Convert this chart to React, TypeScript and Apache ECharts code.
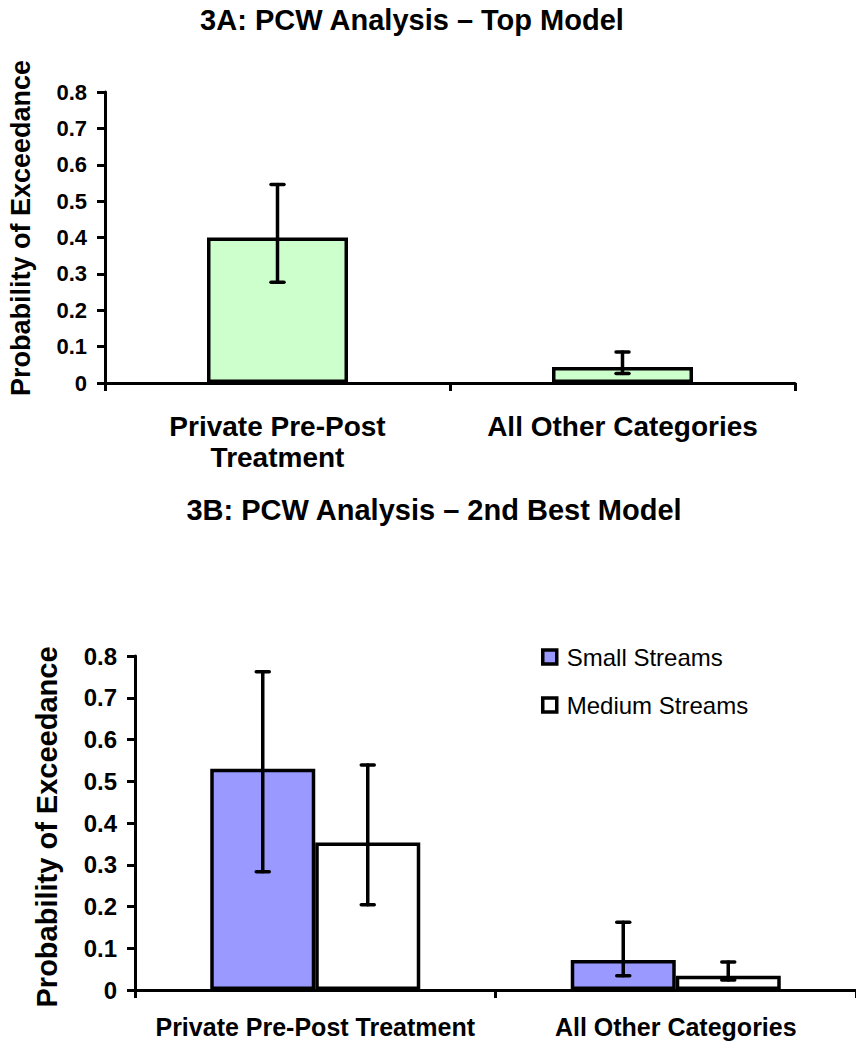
import React, { useEffect, useRef } from "react";
import * as echarts from "echarts";

const categoriesA = ["Private Pre-Post\nTreatment", "All Other Categories"];
const topValues = [0.4, 0.044];
const topLow = [0.277, 0.026];
const topHigh = [0.546, 0.085];

const categoriesB = ["Private Pre-Post Treatment", "All Other Categories"];
const smallValues = [0.53, 0.072];
const smallLow = [0.283, 0.034];
const smallHigh = [0.762, 0.162];
const mediumValues = [0.353, 0.034];
const mediumLow = [0.204, 0.024];
const mediumHigh = [0.539, 0.067];

const yTicks = [0, 0.1, 0.2, 0.3, 0.4, 0.5, 0.6, 0.7, 0.8];

const FONT = '"Liberation Sans", Arial, Helvetica, sans-serif';

function errData(lo: number[], hi: number[]) {
  return lo.map((l, i) => [i, l, hi[i]]);
}

function errSeries(
  lo: number[],
  hi: number[],
  xAxisIndex: number,
  yAxisIndex: number,
  offset: number
) {
  return {
    type: "custom",
    xAxisIndex,
    yAxisIndex,
    z: 10,
    silent: true,
    data: errData(lo, hi),
    encode: { x: 0, y: [1, 2] },
    renderItem: (params: any, api: any) => {
      const idx = api.value(0);
      const pHi = api.coord([idx, api.value(2)]);
      const pLo = api.coord([idx, api.value(1)]);
      const cx = pHi[0] + offset;
      const style = { stroke: "#000", lineWidth: 3.5, lineCap: "round" };
      return {
        type: "group",
        children: [
          { type: "line", shape: { x1: cx, y1: pHi[1], x2: cx, y2: pLo[1] }, style },
          { type: "line", shape: { x1: cx - 6.5, y1: pHi[1], x2: cx + 6.5, y2: pHi[1] }, style },
          { type: "line", shape: { x1: cx - 6.5, y1: pLo[1], x2: cx + 6.5, y2: pLo[1] }, style },
        ],
      };
    },
  };
}

function yAxisCfg(gridIndex: number, fontSize: number) {
  return {
    type: "value",
    gridIndex,
    min: 0,
    max: yTicks[yTicks.length - 1],
    interval: 0.1,
    axisLine: { show: true, lineStyle: { color: "#000", width: 3 } },
    axisTick: { show: true, length: 8, lineStyle: { color: "#000", width: 3 } },
    splitLine: { show: false },
    axisLabel: {
      margin: 18,
      fontFamily: FONT,
      fontWeight: "bold",
      fontSize,
      color: "#000",
      formatter: (v: number) => String(Math.round(v * 10) / 10),
    },
  };
}

function textEl(text: string, x: number, y: number, size: number, rotation = 0) {
  return {
    type: "text",
    x,
    y,
    rotation,
    style: {
      text,
      font: `bold ${size}px ${FONT}`,
      fill: "#000",
      textAlign: "center",
      textVerticalAlign: "middle",
    },
  };
}

export default function App() {
  const ref = useRef<HTMLDivElement>(null);
  useEffect(() => {
    if (!ref.current) return;
    const chart = echarts.init(ref.current, null, { renderer: "svg" });
    chart.setOption({
      animation: false,
      backgroundColor: "#fff",
      graphic: [
        textEl("3A: PCW Analysis \u2013 Top Model", 412, 20, 29),
        textEl("3B: PCW Analysis \u2013 2nd Best Model", 434, 510, 29),
        textEl("Probability of Exceedance", 21, 228, 27, Math.PI / 2),
        textEl("Probability of Exceedance", 47, 827, 29, Math.PI / 2),
      ],
      legend: {
        data: [
          { name: "Small Streams", itemStyle: { borderColor: "#000", borderWidth: 3.5 } },
          { name: "Medium Streams", itemStyle: { borderColor: "#000", borderWidth: 3.5 } },
        ],
        orient: "vertical",
        left: 536,
        top: 640,
        itemWidth: 14,
        itemHeight: 14,
        itemGap: 24,
        icon: "rect",
        textStyle: {
          fontFamily: FONT,
          fontSize: 24,
          lineHeight: 24,
          color: "#000",
          padding: [0, 0, 0, 5],
        },
      },
      grid: [
        { left: 105, top: 92, width: 690, height: 291 },
        { left: 135, top: 656, width: 730, height: 334 },
      ],
      xAxis: [
        {
          type: "category",
          gridIndex: 0,
          data: categoriesA,
          axisLine: { lineStyle: { color: "#000", width: 3 } },
          axisTick: { show: true, length: 8, lineStyle: { color: "#000", width: 3 } },
          axisLabel: {
            interval: 0,
            margin: 28,
            fontFamily: FONT,
            fontWeight: "bold",
            fontSize: 28,
            lineHeight: 31,
            color: "#000",
          },
        },
        {
          type: "category",
          gridIndex: 1,
          data: categoriesB,
          axisLine: { lineStyle: { color: "#000", width: 3 } },
          axisTick: { show: true, length: 8, lineStyle: { color: "#000", width: 3 } },
          axisLabel: {
            interval: 0,
            hideOverlap: false,
            margin: 24,
            fontFamily: FONT,
            fontWeight: "bold",
            fontSize: 25,
            lineHeight: 25,
            color: "#000",
          },
        },
      ],
      yAxis: [yAxisCfg(0, 22), yAxisCfg(1, 24)],
      series: [
        {
          type: "bar",
          xAxisIndex: 0,
          yAxisIndex: 0,
          data: topValues,
          barWidth: 141,
          itemStyle: { color: "#CCFFCC", borderColor: "#000", borderWidth: 3.5 },
        },
        errSeries(topLow, topHigh, 0, 0, 0),
        {
          type: "bar",
          name: "Small Streams",
          xAxisIndex: 1,
          yAxisIndex: 1,
          data: smallValues,
          barWidth: 105,
          barGap: "0%",
          itemStyle: { color: "#9999FF", borderColor: "#000", borderWidth: 3.5 },
        },
        {
          type: "bar",
          name: "Medium Streams",
          xAxisIndex: 1,
          yAxisIndex: 1,
          data: mediumValues,
          barWidth: 105,
          barGap: "0%",
          itemStyle: { color: "#FFFFFF", borderColor: "#000", borderWidth: 3.5 },
        },
        errSeries(smallLow, smallHigh, 1, 1, -52.5),
        errSeries(mediumLow, mediumHigh, 1, 1, 52.5),
      ],
    });
    return () => chart.dispose();
  }, []);
  return (
    <div
      ref={ref}
      style={{ position: "absolute", left: 0, top: 0, width: 856, height: 1044 }}
    />
  );
}
